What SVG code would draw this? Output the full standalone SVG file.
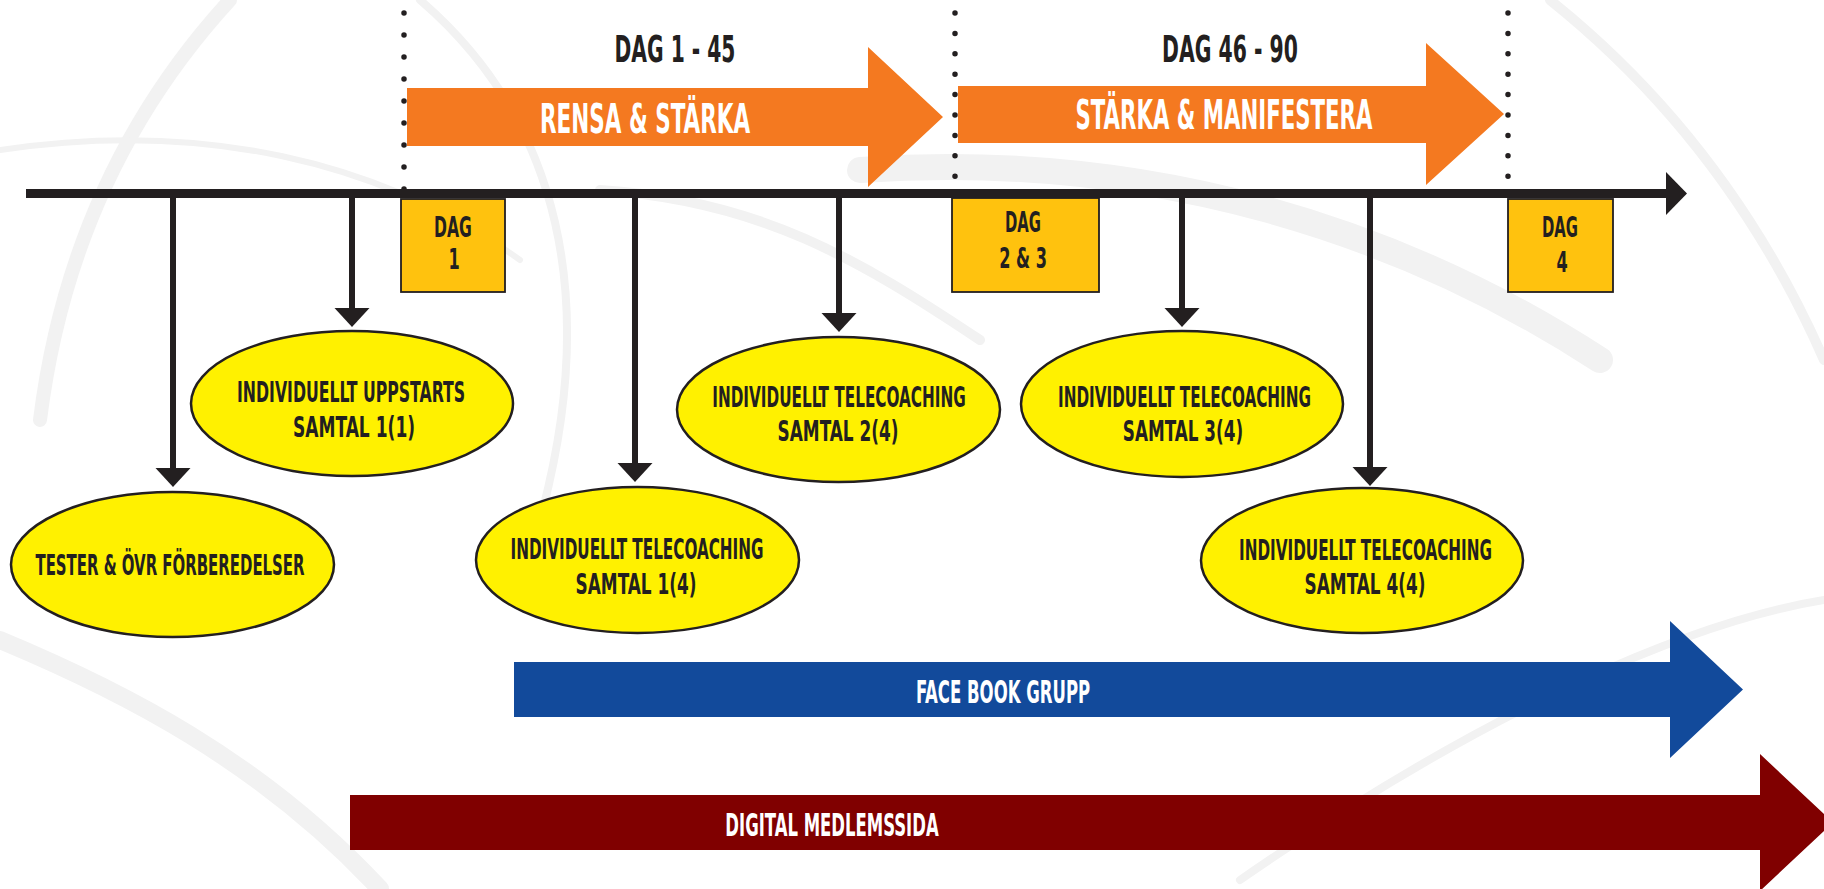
<svg xmlns="http://www.w3.org/2000/svg" width="1824" height="889" viewBox="0 0 1824 889">
<defs>
<style>
.t{font-family:"Liberation Sans Narrow","DejaVu Sans Condensed","Liberation Sans",sans-serif;font-weight:bold;text-anchor:middle;fill:#231F20}
.w{fill:#FFFFFF}
.dot{stroke:#231F20;stroke-width:5.5;stroke-linecap:round;fill:none}
.box{fill:#FFC20E;stroke:#231F20;stroke-width:1.8}
.ell{fill:#FFF100;stroke:#231F20;stroke-width:2.5}
.conn{stroke:#231F20;stroke-width:6;fill:none}
.bg{fill:none;stroke:#F2F2F2;stroke-linecap:round}
</style>
<marker id="ah" viewBox="0 -18 20 36" refX="4" refY="0" markerWidth="20" markerHeight="36" markerUnits="userSpaceOnUse" orient="auto">
<path d="M0,-17.5 L19,0 L0,17.5 Z" fill="#231F20"/>
</marker>
</defs>
<rect width="1824" height="889" fill="#FFFFFF"/>
<g id="background">
<path class="bg" stroke-width="14" d="M230,0 C120,120 60,260 40,420"/>
<path class="bg" stroke-width="8" d="M420,0 C560,120 600,300 540,520"/>
<path class="bg" stroke-width="6" d="M0,150 C200,120 380,160 520,260"/>
<path class="bg" stroke-width="26" d="M860,170 C1150,150 1400,230 1600,360"/>
<path class="bg" stroke-width="10" d="M1550,0 C1700,120 1780,260 1824,360"/>
<path class="bg" stroke-width="18" d="M0,640 C120,690 260,760 380,889"/>
<path class="bg" stroke-width="8" d="M1240,880 C1500,700 1700,620 1824,600"/>
<path class="bg" stroke-width="10" d="M600,190 C760,200 860,260 980,340"/>
</g>
<g id="phase-dividers">
<line class="dot" x1="404" y1="13" x2="404" y2="190" stroke-dasharray="0 22"/>
<line class="dot" x1="955" y1="13" x2="955" y2="178" stroke-dasharray="0 20.4"/>
<line class="dot" x1="1508" y1="13" x2="1508" y2="178" stroke-dasharray="0 20.4"/>
</g>
<g id="phase1">
<text class="t" transform="translate(675,62) scale(0.62,1)" font-size="37" textLength="195" lengthAdjust="spacingAndGlyphs">DAG 1 - 45</text>
<path d="M407,88 L868,88 L868,47 L943,117 L868,187 L868,146 L407,146 Z" fill="#F47920"/>
<text class="t w" transform="translate(645,133) scale(0.62,1)" font-size="41" textLength="339" lengthAdjust="spacingAndGlyphs">RENSA &amp; STÄRKA</text>
</g>
<g id="phase2">
<text class="t" transform="translate(1230,62) scale(0.62,1)" font-size="37" textLength="219" lengthAdjust="spacingAndGlyphs">DAG 46 - 90</text>
<path d="M958,86 L1426,86 L1426,43 L1504,114 L1426,185 L1426,143 L958,143 Z" fill="#F47920"/>
<text class="t w" transform="translate(1224,129) scale(0.62,1)" font-size="41" textLength="479" lengthAdjust="spacingAndGlyphs">STÄRKA &amp; MANIFESTERA</text>
</g>
<g id="connectors">
<line class="conn" x1="173" y1="196" x2="173" y2="472" marker-end="url(#ah)"/>
<line class="conn" x1="352" y1="196" x2="352" y2="312" marker-end="url(#ah)"/>
<line class="conn" x1="635" y1="196" x2="635" y2="467" marker-end="url(#ah)"/>
<line class="conn" x1="839" y1="196" x2="839" y2="317" marker-end="url(#ah)"/>
<line class="conn" x1="1182" y1="196" x2="1182" y2="312" marker-end="url(#ah)"/>
<line class="conn" x1="1370" y1="196" x2="1370" y2="471" marker-end="url(#ah)"/>
</g>
<g id="timeline">
<rect x="26" y="189" width="1642" height="9" fill="#231F20"/>
<path d="M1666,172 L1687,193.5 L1666,215 Z" fill="#231F20"/>
</g>
<g id="dag1">
<rect class="box" x="401" y="199" width="104" height="93"/>
<text class="t" transform="translate(453,237) scale(0.62,1)" font-size="29" textLength="61" lengthAdjust="spacingAndGlyphs">DAG</text>
<text class="t" transform="translate(454,269) scale(0.62,1)" font-size="29">1</text>
</g>
<g id="dag23">
<rect class="box" x="952" y="198" width="147" height="94"/>
<text class="t" transform="translate(1023,232) scale(0.62,1)" font-size="29" textLength="58" lengthAdjust="spacingAndGlyphs">DAG</text>
<text class="t" transform="translate(1023,268) scale(0.62,1)" font-size="29" textLength="77" lengthAdjust="spacingAndGlyphs">2 &amp; 3</text>
</g>
<g id="dag4">
<rect class="box" x="1508" y="199" width="105" height="93"/>
<text class="t" transform="translate(1560,237) scale(0.62,1)" font-size="29" textLength="58" lengthAdjust="spacingAndGlyphs">DAG</text>
<text class="t" transform="translate(1562,272) scale(0.62,1)" font-size="29">4</text>
</g>
<g id="tester">
<ellipse class="ell" cx="172.5" cy="564.5" rx="161.5" ry="72.5"/>
<text class="t" transform="translate(170,575) scale(0.62,1)" font-size="29" textLength="434" lengthAdjust="spacingAndGlyphs">TESTER &amp; ÖVR FÖRBEREDELSER</text>
</g>
<g id="uppstart">
<ellipse class="ell" cx="352" cy="403.5" rx="161" ry="72.5"/>
<text class="t" transform="translate(351,402) scale(0.62,1)" font-size="29" textLength="368" lengthAdjust="spacingAndGlyphs">INDIVIDUELLT UPPSTARTS</text>
<text class="t" transform="translate(354,437) scale(0.62,1)" font-size="29" textLength="197" lengthAdjust="spacingAndGlyphs">SAMTAL 1(1)</text>
</g>
<g id="tele1">
<ellipse class="ell" cx="637.5" cy="560" rx="161.5" ry="73"/>
<text class="t" transform="translate(637,559) scale(0.62,1)" font-size="29" textLength="408" lengthAdjust="spacingAndGlyphs">INDIVIDUELLT TELECOACHING</text>
<text class="t" transform="translate(636,594) scale(0.62,1)" font-size="29" textLength="195" lengthAdjust="spacingAndGlyphs">SAMTAL 1(4)</text>
</g>
<g id="tele2">
<ellipse class="ell" cx="838.5" cy="409.5" rx="161.5" ry="72.5"/>
<text class="t" transform="translate(839,407) scale(0.62,1)" font-size="29" textLength="409" lengthAdjust="spacingAndGlyphs">INDIVIDUELLT TELECOACHING</text>
<text class="t" transform="translate(838,441) scale(0.62,1)" font-size="29" textLength="195" lengthAdjust="spacingAndGlyphs">SAMTAL 2(4)</text>
</g>
<g id="tele3">
<ellipse class="ell" cx="1182" cy="404" rx="161" ry="73"/>
<text class="t" transform="translate(1184.5,407) scale(0.62,1)" font-size="29" textLength="408" lengthAdjust="spacingAndGlyphs">INDIVIDUELLT TELECOACHING</text>
<text class="t" transform="translate(1183,441) scale(0.62,1)" font-size="29" textLength="194" lengthAdjust="spacingAndGlyphs">SAMTAL 3(4)</text>
</g>
<g id="tele4">
<ellipse class="ell" cx="1362" cy="560.5" rx="161" ry="72.5"/>
<text class="t" transform="translate(1365.5,560) scale(0.62,1)" font-size="29" textLength="408" lengthAdjust="spacingAndGlyphs">INDIVIDUELLT TELECOACHING</text>
<text class="t" transform="translate(1365,594) scale(0.62,1)" font-size="29" textLength="195" lengthAdjust="spacingAndGlyphs">SAMTAL 4(4)</text>
</g>
<g id="facebook">
<path d="M514,662 L1670,662 L1670,621 L1743,689.5 L1670,758 L1670,717 L514,717 Z" fill="#124A9B"/>
<text class="t w" transform="translate(1003,703) scale(0.62,1)" font-size="32" textLength="281" lengthAdjust="spacingAndGlyphs">FACE BOOK GRUPP</text>
</g>
<g id="medlemssida">
<path d="M350,795 L1760,795 L1760,754 L1833,822.5 L1760,891 L1760,850 L350,850 Z" fill="#800000"/>
<text class="t w" transform="translate(832,836) scale(0.62,1)" font-size="32" textLength="344" lengthAdjust="spacingAndGlyphs">DIGITAL MEDLEMSSIDA</text>
</g>
</svg>
